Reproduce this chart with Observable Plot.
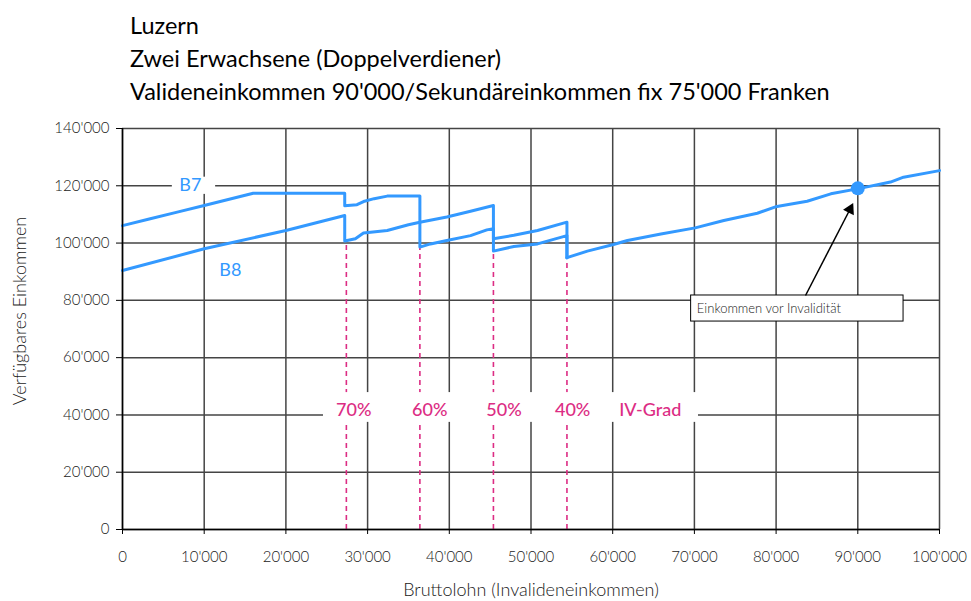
<!DOCTYPE html>
<html><head><meta charset="utf-8">
<script src="https://cdn.jsdelivr.net/npm/d3@7"></script>
<script src="https://cdn.jsdelivr.net/npm/@observablehq/plot@0.6"></script>
<style>
body{margin:0;background:#fff;}
#wrap{position:relative;width:971px;height:601px;font-family:Lato,"Open Sans",sans-serif;}
#title{position:absolute;left:130px;top:9px;font-size:23.5px;line-height:33px;color:#000;white-space:nowrap;}
#chart{position:absolute;left:0;top:0;}
</style></head><body>
<div id="wrap"><div id="chart"></div><div id="title"></div></div>
<script>
const titleLines = ["Luzern", "Zwei Erwachsene (Doppelverdiener)", "Valideneinkommen 90'000/Sekundäreinkommen fix 75'000 Franken"];
const xLabel = "Bruttolohn (Invalideneinkommen)";
const yLabel = "Verfügbares Einkommen";
const xTicks = [0, 10000, 20000, 30000, 40000, 50000, 60000, 70000, 80000, 90000, 100000];
const yTicks = [0, 20000, 40000, 60000, 80000, 100000, 120000, 140000];

// B7 (upper curve at low income) until the last IV step
const b7X = [0, 3400, 6700, 10000, 16000, 27200, 27200, 28700, 29500, 30800, 32400, 36400, 36400, 37700, 39700, 42600, 44600, 45400, 45400, 47900, 50800, 54400, 54400];
const b7Y = [106100, 108500, 110800, 113100, 117400, 117400, 113000, 113400, 114500, 115500, 116400, 116400, 98600, 99700, 100900, 102600, 104600, 105000, 101500, 102700, 104400, 107300, 94900];
// B8 (lower curve at low income) until the last IV step
const b8X = [0, 10000, 20000, 27200, 27200, 28500, 29500, 32400, 35000, 36400, 39700, 42600, 45400, 45400, 47900, 50800, 54400, 54400];
const b8Y = [90400, 98000, 104400, 109600, 100700, 101500, 103500, 104400, 106400, 107300, 109100, 111100, 113100, 97200, 98800, 99700, 102600, 94900];
// common part (both curves identical)
const commonX = [54400, 56900, 60100, 61800, 65900, 70100, 73600, 77700, 80100, 83800, 86700, 90100, 94000, 95600, 100000];
const commonY = [94900, 97200, 99500, 100900, 103200, 105300, 107900, 110400, 112800, 114600, 117200, 119000, 121300, 123000, 125300];

// IV-Grad steps
const stepX = [27400, 36400, 45400, 54400];
const stepLow = [100700, 98600, 97200, 94900];
const gradLabels = ["70%", "60%", "50%", "40%", "IV-Grad"];
const gradLabelX = [28300, 37600, 46700, 55100, 64600];
const gradLabelY = 41500;

const seriesNames = ["B7", "B8"];
const seriesLabelX = [8300, 13200];
const seriesLabelY = [120100, 90400];

const refPoint = {x: 90000, y: 119100};
const noteText = "Einkommen vor Invalidität";
const arrowTail = {x: 83600, y: 81700};
const arrowHead = {x: 89050, y: 111800};

const blue = "#3399ff";
const pink = "#dc2d84";
const textGray = "#1a1a1a";
const fmt = d => d === 0 ? "0" : d3.format(",")(d).replace(/,/g, "'");

const toPts = (xs, ys, name) => xs.map((x, i) => ({x, y: ys[i], name}));
const lineData = [
  ...toPts(b7X, b7Y, "B7"),
  ...toPts(b8X, b8Y, "B8"),
  ...toPts(commonX, commonY, "common")
];
const steps = stepX.map((x, i) => ({x, y1: 0, y2: stepLow[i]}));
const gradData = gradLabels.map((t, i) => ({t, x: gradLabelX[i], y: gradLabelY}));
const seriesData = seriesNames.map((t, i) => ({t, x: seriesLabelX[i], y: seriesLabelY[i]}));

const plot = Plot.plot({
  width: 971,
  height: 601,
  marginLeft: 122,
  marginRight: 32,
  marginTop: 128,
  marginBottom: 72,
  style: {fontFamily: "Lato, 'Open Sans', sans-serif", fontSize: "15px", color: textGray, background: "#fff"},
  x: {domain: [0, 100000]},
  y: {domain: [0, 140000]},
  marks: [
    Plot.gridX(xTicks, {stroke: "#444", strokeOpacity: 1, strokeWidth: 1.5}),
    Plot.gridY(yTicks, {stroke: "#444", strokeOpacity: 1, strokeWidth: 1.5}),
    Plot.ruleX(steps, {x: "x", y1: "y1", y2: "y2", stroke: pink, strokeWidth: 1.6, strokeDasharray: "5,4"}),
    Plot.rect([{x1: 24600, x2: 70500, y1: 37400, y2: 47800}], {x1: "x1", x2: "x2", y1: "y1", y2: "y2", fill: "#fff"}),
    Plot.rect([{x1: 6100, x2: 11400, y1: 117000, y2: 123000}], {x1: "x1", x2: "x2", y1: "y1", y2: "y2", fill: "#fff"}),
    Plot.text(gradData, {x: "x", y: "y", text: "t", fill: pink, fontSize: 18, fontWeight: 500}),
    Plot.text(seriesData, {x: "x", y: "y", text: "t", fill: blue, fontSize: 18}),
    Plot.line(lineData, {x: "x", y: "y", z: "name", stroke: blue, strokeWidth: 3, curve: "linear"}),
    Plot.dot([refPoint], {x: "x", y: "y", r: 7, fill: blue}),
    Plot.rect([{x1: 69600, x2: 95600, y1: 72600, y2: 81700}], {x1: "x1", x2: "x2", y1: "y1", y2: "y2", fill: "#fff", stroke: "#000", strokeWidth: 1}),
    Plot.text([{x: 70300, y: 77000}], {x: "x", y: "y", text: () => noteText, textAnchor: "start", fontSize: 13, fontWeight: 300, fill: textGray}),
    Plot.link([{x1: arrowTail.x, y1: arrowTail.y, x2: arrowHead.x, y2: arrowHead.y}], {x1: "x1", y1: "y1", x2: "x2", y2: "y2", stroke: "#000", strokeWidth: 1.5}),
    Plot.dot([arrowHead], {x: "x", y: "y", symbol: "triangle", r: 4.5, rotate: 27, fill: "#000", stroke: "none"}),
    Plot.ruleX([0], {stroke: "#000", strokeWidth: 1.5}),
    Plot.ruleY([0], {stroke: "#000", strokeWidth: 1.5}),
    Plot.axisX(xTicks, {tickFormat: fmt, tickSize: 5, tickPadding: 17, stroke: "#000", fontSize: 15, fontWeight: 300, fill: textGray, label: null}),
    Plot.axisY(yTicks, {tickFormat: fmt, tickSize: 6, tickPadding: 7, stroke: "#000", fontSize: 15, fontWeight: 300, fill: textGray, label: null}),
    Plot.text([xLabel], {frameAnchor: "bottom", textAnchor: "middle", lineAnchor: "middle", dy: 61, fontSize: 18, fontWeight: 300, fill: textGray}),
    Plot.text([yLabel], {frameAnchor: "left", textAnchor: "middle", lineAnchor: "middle", rotate: -90, dx: -102, dy: -18, fontSize: 18, fontWeight: 300, fill: textGray})
  ]
});
document.getElementById("chart").appendChild(plot);
const t = document.getElementById("title");
titleLines.forEach(s => { const d = document.createElement("div"); d.textContent = s; t.appendChild(d); });
</script>
</body></html>
